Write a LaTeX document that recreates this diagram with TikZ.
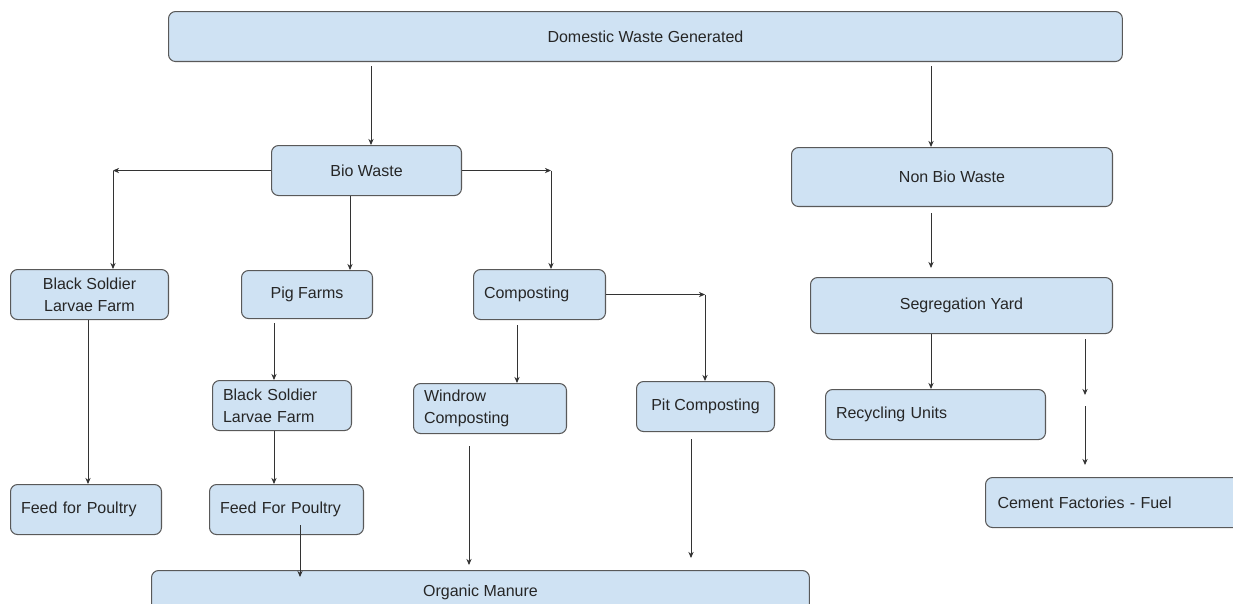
\documentclass[tikz,border=0pt]{standalone}
\usepackage{fontspec}
\setmainfont{Liberation Sans}
\usetikzlibrary{arrows.meta}
\definecolor{boxfill}{HTML}{CFE2F3}
\definecolor{boxline}{HTML}{595959}
\definecolor{arrline}{HTML}{333333}
\tikzset{
  box/.style={draw=boxline, fill=boxfill, line width=0.6pt, rounded corners=4pt,
    anchor=north west, inner sep=0pt, align=center, text=black!85,
    font=\fontsize{9.1}{12.3}\selectfont},
  lbox/.style={box, align=left, inner xsep=0.21cm, text width=#1},
  arr/.style={draw=arrline, line width=0.5pt, -{Stealth[length=3.5pt,width=3pt]}}
}
\begin{document}
\begin{tikzpicture}[x=0.02cm, y=-0.02cm]
        \clip (0,0) rectangle (1233,603);
        \useasboundingbox (0,0) rectangle (1233,603);

        % top
        \node[box, minimum width=19.08cm, minimum height=1cm] (dom) at (168,11) {Domestic Waste Generated};
        \node[box, minimum width=3.8cm, minimum height=1cm] (bio) at (271,145) {Bio Waste};
        \node[box, minimum width=6.42cm, minimum height=1.18cm] (nonbio) at (791,147) {Non Bio Waste};

        % bio branch
        \node[box, minimum width=3.16cm, minimum height=1cm] (bsfl) at (10,269) {Black Soldier\\Larvae Farm};
        \node[box, minimum width=2.62cm, minimum height=0.96cm] (pig) at (241,270) {Pig Farms};
        \node[lbox=2.22cm, minimum height=1cm] (comp) at (473,269) {Composting};
        \node[lbox=2.36cm, minimum height=1cm] (bsflb) at (212,380) {Black Soldier\\Larvae Farm};
        \node[lbox=2.64cm, minimum height=1cm] (windrow) at (413,383) {Windrow\\Composting};
        \node[box, minimum width=2.76cm, minimum height=1cm] (pit) at (636,381) {Pit Composting};
        \node[lbox=2.6cm, minimum height=1cm] (feeda) at (10,484) {Feed for Poultry};
        \node[lbox=2.66cm, minimum height=1cm] (feedb) at (209,484) {Feed For Poultry};
        \node[box, minimum width=13.16cm, minimum height=0.88cm] (organic) at (151,570) {Organic Manure};

        % non bio branch
        \node[box, minimum width=6.04cm, minimum height=1.12cm] (seg) at (810,277) {Segregation Yard};
        \node[lbox=3.98cm, minimum height=1cm] (recyc) at (825,389) {Recycling Units};
        \node[lbox=4.62cm, inner xsep=0.24cm, minimum height=1cm] (cement) at (985,477) {Cement Factories - Fuel};

        % arrows
        \draw[arr, shorten <=0.08cm] (dom.south -| 371,0) -- (bio.north -| 371,0);
        \draw[arr, shorten <=0.08cm] (dom.south -| 931,0) -- (nonbio.north -| 931,0);

        \draw[arr] (bio.west) -- (bio.west -| 113,0);
        \draw[arr] (bio.west -| 113,0) -- (bsfl.north -| 113,0);
        \draw[arr] (bio.south -| 350,0) -- (pig.north -| 350,0);
        \draw[arr] (bio.east) -- (bio.east -| 551,0);
        \draw[arr] (bio.east -| 551,0) -- (comp.north -| 551,0);

        \draw[arr] (bsfl.south -| 88,0) -- (feeda.north -| 88,0);
        \draw[arr, shorten <=0.08cm] (pig.south -| 274,0) -- (bsflb.north -| 274,0);
        \draw[arr] (bsflb.south -| 274,0) -- (feedb.north -| 274,0);
        \draw[arr, shorten <=-0.2cm, shorten >=-0.14cm] (feedb.south -| 300,0) -- (organic.north -| 300,0);

        \draw[arr, shorten <=0.1cm] (comp.south -| 517,0) -- (windrow.north -| 517,0);
        \draw[arr] (comp.east) -- (comp.east -| 705,0);
        \draw[arr] (comp.east -| 705,0) -- (pit.north -| 705,0);
        \draw[arr, shorten <=0.24cm, shorten >=0.1cm] (windrow.south -| 469,0) -- (organic.north -| 469,0);
        \draw[arr, shorten <=0.14cm, shorten >=0.24cm] (pit.south -| 691,0) -- (organic.north -| 691,0);

        \draw[arr, shorten <=0.12cm, shorten >=0.18cm] (nonbio.south -| 931,0) -- (seg.north -| 931,0);
        \draw[arr] (seg.south -| 931,0) -- (recyc.north -| 931,0);
        \coordinate (cemmid) at (1085,401);
        \draw[arr, shorten <=0.1cm, shorten >=0.12cm] (seg.south -| cemmid) -- (cemmid);
        \draw[arr, shorten <=0.1cm, shorten >=0.24cm] (cemmid) -- (cement.north -| cemmid);
\end{tikzpicture}
\end{document}
